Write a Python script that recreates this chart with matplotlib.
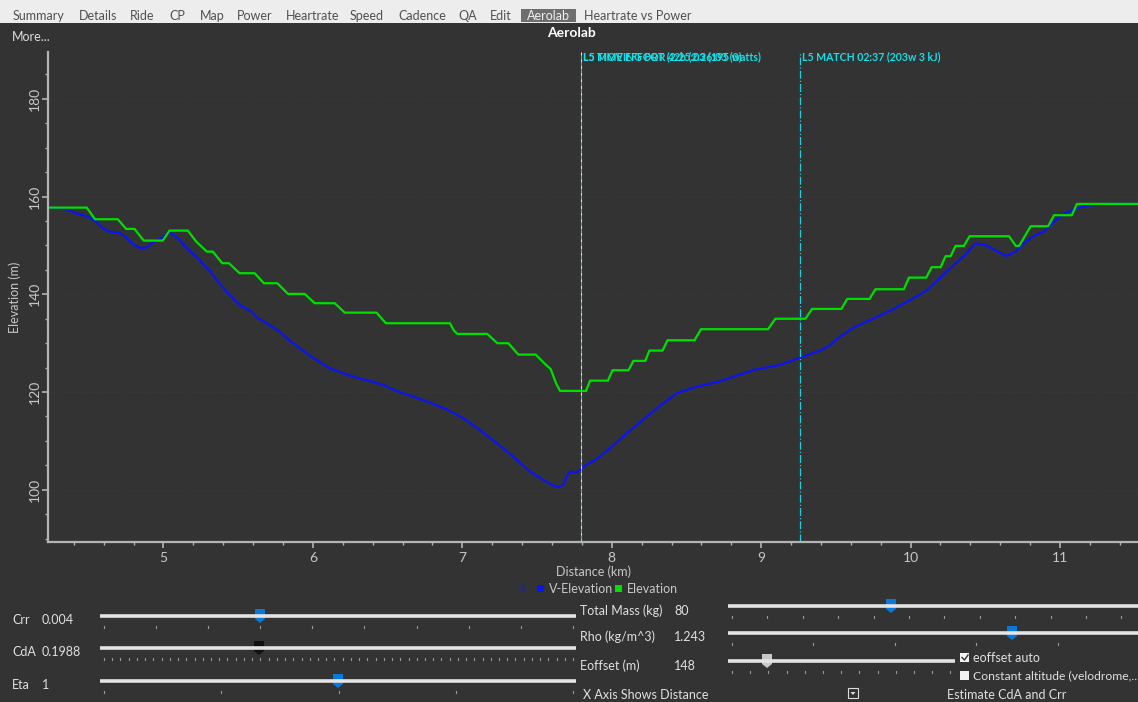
import matplotlib.pyplot as plt
from matplotlib.patches import Rectangle, Polygon

plt.rcParams['font.family'] = ['Lato', 'DejaVu Sans']

# elevation profile (km, m)
green_km = [4.236, 4.486, 4.542, 4.694, 4.750, 4.806, 4.868, 4.995, 5.040, 5.163,
            5.219, 5.290, 5.330, 5.393, 5.438, 5.509, 5.610, 5.672, 5.762, 5.833,
            5.945, 6.012, 6.146, 6.213, 6.426, 6.488, 6.917, 6.944, 6.966, 7.167,
            7.234, 7.308, 7.375, 7.491, 7.553, 7.592, 7.627, 7.654, 7.828, 7.855,
            7.974, 8.005, 8.112, 8.145, 8.224, 8.252, 8.340, 8.373, 8.554, 8.597,
            9.046, 9.095, 9.296, 9.341, 9.537, 9.576, 9.725, 9.765, 9.955, 9.989,
            10.105, 10.141, 10.201, 10.234, 10.268, 10.301, 10.357, 10.395, 10.659, 10.704,
            10.726, 10.804, 10.920, 10.960, 11.079, 11.113, 11.530]
green_m = [157.75, 157.75, 155.37, 155.37, 153.39, 153.39, 150.99, 150.99, 153.04, 153.04,
           150.79, 148.74, 148.74, 146.37, 146.37, 144.32, 144.32, 142.27, 142.27, 140.08,
           140.08, 138.18, 138.18, 136.25, 136.25, 134.08, 134.08, 132.57, 131.89, 131.89,
           129.99, 129.99, 127.66, 127.66, 125.75, 124.67, 121.80, 120.23, 120.23, 122.33,
           122.33, 124.46, 124.46, 126.37, 126.37, 128.48, 128.48, 130.60, 130.60, 132.86,
           132.86, 135.00, 135.00, 137.01, 137.01, 139.06, 139.06, 141.04, 141.04, 143.42,
           143.42, 145.55, 145.55, 147.80, 147.80, 149.91, 149.91, 151.89, 151.89, 149.91,
           149.91, 153.94, 153.94, 156.19, 156.19, 158.51, 158.51]

# virtual elevation (km, m)
velev_km = [4.236, 4.348, 4.415, 4.493, 4.549, 4.593, 4.638, 4.694, 4.739, 4.794,
            4.839, 4.884, 4.940, 4.995, 5.040, 5.096, 5.163, 5.230, 5.308, 5.375,
            5.431, 5.509, 5.588, 5.632, 5.699, 5.777, 5.844, 5.934, 6.012, 6.113,
            6.202, 6.292, 6.381, 6.470, 6.582, 6.671, 6.772, 6.895, 7.006, 7.118,
            7.230, 7.341, 7.453, 7.542, 7.598, 7.643, 7.676, 7.699, 7.721, 7.766,
            7.810, 7.900, 7.989, 8.101, 8.235, 8.346, 8.436, 8.570, 8.704, 8.816,
            8.950, 9.128, 9.262, 9.407, 9.463, 9.530, 9.619, 9.731, 9.865, 10.000,
            10.112, 10.234, 10.357, 10.436, 10.514, 10.603, 10.643, 10.704, 10.759, 10.826,
            10.893, 10.960, 11.027, 11.106, 11.184, 11.340, 11.530]
velev_m = [157.75, 157.42, 156.60, 155.91, 154.88, 153.53, 152.84, 152.71, 151.95, 150.32,
           149.50, 149.56, 150.79, 151.69, 152.71, 151.48, 149.23, 147.39, 144.85, 142.27,
           140.23, 137.83, 136.46, 135.11, 133.94, 132.37, 130.52, 128.48, 126.78, 124.87,
           123.85, 122.95, 122.27, 121.45, 119.96, 119.06, 117.97, 116.48, 114.64, 112.24,
           109.52, 106.78, 103.71, 102.01, 100.98, 100.51, 100.98, 102.68, 103.71, 103.50,
           104.73, 106.31, 108.50, 111.57, 114.97, 117.71, 119.76, 121.11, 122.01, 123.15,
           124.53, 125.55, 127.05, 128.62, 129.64, 131.34, 133.18, 134.76, 136.66, 138.85,
           140.90, 144.44, 147.86, 150.46, 149.91, 148.41, 147.86, 148.74, 150.46, 151.96,
           152.84, 154.88, 156.46, 157.63, 158.16, 158.51, 158.51]

marker_km = [7.795, 9.263]
marker_labels = ["L5 MATCH 02:37 (203w 3 kJ)"]

tabs = ["Summary", "Details", "Ride", "CP", "Map", "Power", "Heartrate", "Speed",
        "Cadence", "QA", "Edit", "Aerolab", "Heartrate vs Power"]
tab_x = [13, 79, 130, 169, 200, 237, 286, 350, 398, 458, 490, 527, 584]

BG = '#333333'
FG = '#c8c8c8'
W, H = 1138, 702

fig = plt.figure(figsize=(W / 100, H / 100), dpi=100, facecolor=BG)

# pixel-space overlay for the window chrome
ui = fig.add_axes([0, 0, 1, 1])
ui.set_xlim(0, W)
ui.set_ylim(H, 0)
ui.axis('off')

ui.add_patch(Rectangle((0, 0), W, 23, color='#ededed', lw=0))
for name, x in zip(tabs, tab_x):
    if name == "Aerolab":
        ui.add_patch(Rectangle((x - 6, 9), 55, 13, color='#6e6e6e', lw=0))
        ui.text(x, 15.5, name, color='#f0f0f0', fontsize=9, va='center')
    else:
        ui.text(x, 15.5, name, color='#505050', fontsize=9, va='center')

ui.text(12, 37, "More...", color='#dddddd', fontsize=9, va='center')
ui.text(571, 33, "Aerolab", color='white', fontsize=10, fontweight='bold',
        ha='center', va='center')

# main plot
ax = fig.add_axes([48 / W, 1 - 542 / H, 1090 / W, 490 / H])
ax.set_facecolor('none')
ax.plot(velev_km, velev_m, color='#0a14f0', lw=1.6)
ax.plot(green_km, green_m, color='#00e000', lw=1.6)
ax.axvline(marker_km[0], color='#dddddd', lw=0.8, ls=(0, (3, 3)))
ax.axvline(marker_km[0], color='#18c8d8', lw=0.8, ls=(3, (3, 3)))
ax.axvline(marker_km[1], color='#18d0e0', lw=0.9, ls='-.')

for s in ['top', 'right']:
    ax.spines[s].set_visible(False)
for s in ['left', 'bottom']:
    ax.spines[s].set_color('#b4b4b4')
    ax.spines[s].set_linewidth(1.6)

ax.set_xlim(4.227, 11.522)
ax.set_ylim(89.3, 189.6)
ax.set_xticks([5, 6, 7, 8, 9, 10, 11])
ax.set_xticks([x / 5 for x in range(22, 58)], minor=True)
ax.set_yticks([100, 120, 140, 160, 180])
ax.set_yticks(list(range(90, 190, 5)), minor=True)
ax.tick_params(which='both', colors='#b4b4b4', labelcolor=FG, labelsize=10, direction='out')
ax.tick_params(which='major', length=4, width=1.2)
ax.tick_params(which='minor', length=2, width=1)
ax.tick_params(axis='y', pad=1)
ax.tick_params(axis='x', pad=3)
for lab in ax.get_yticklabels():
    lab.set_rotation(90)
    lab.set_va('center')
ax.grid(which='major', axis='y', color='#3c3c3c', lw=0.6, ls=':')
ax.set_xlabel("Distance (km)", color=FG, fontsize=9, labelpad=1)
ax.set_ylabel("Elevation (m)", color=FG, fontsize=9, labelpad=6)

# marker labels (first one is several labels drawn over each other)
mk = dict(color='#14e0e8', fontsize=7.6, fontweight='bold', va='center',
          transform=ax.get_xaxis_transform())
ax.text(marker_km[0] + 0.01, 0.99, "L5 MOVING FOR 42b (2:26:03 (0)", **mk)
ax.text(marker_km[0] + 0.01, 0.99, "L5 TIME EFFORT (2:25:03 (195 watts)", **mk)
ax.text(marker_km[1] + 0.01, 0.99, marker_labels[0], **mk)

# legend
ui.add_patch(Rectangle((519, 585), 7, 7, color='#2a2a6a', lw=0))
ui.add_patch(Rectangle((537, 585), 7, 7, color='#0a14f0', lw=0))
ui.text(549, 589, "V-Elevation", color=FG, fontsize=9, va='center')
ui.add_patch(Rectangle((615, 585), 7, 7, color='#00e000', lw=0))
ui.text(627, 589, "Elevation", color=FG, fontsize=9, va='center')


def slider(x0, x1, y, hx, hcolor, ticks):
    ui.plot([x0, x1], [y, y], color='#e4e4e4', lw=2.6, solid_capstyle='butt')
    for t in ticks:
        ui.plot([t, t], [y + 10, y + 12], color='#9a9a9a', lw=0.8)
    ui.add_patch(Polygon([(hx - 5, y - 7), (hx + 5, y - 7), (hx + 5, y + 3),
                          (hx, y + 7), (hx - 5, y + 3)], color=hcolor, lw=0))


slider(100, 576, 616, 260, '#0a78d7', [104 + 52.1 * k for k in range(10)])
slider(100, 576, 648, 259, '#111111', [104 + 8.23 * k for k in range(58)])
slider(100, 576, 681, 338, '#0a78d7', [104 + 117.3 * k for k in range(5)])
slider(728, 1138, 606, 891, '#0a78d7', [732 + 35.4 * k for k in range(12)])
slider(728, 1138, 633, 1012, '#0a78d7', [732 + 81.5 * k for k in range(6)])
slider(728, 955, 661, 767, '#c8c8c8', [732 + 18.2 * k for k in range(13)])

txt = dict(color='#e0e0e0', fontsize=9, va='center')
ui.text(12, 620, "Crr", **txt)
ui.text(42, 620, "0.004", **txt)
ui.text(12, 652, "CdA", **txt)
ui.text(42, 652, "0.1988", **txt)
ui.text(12, 685, "Eta", **txt)
ui.text(42, 685, "1", **txt)
ui.text(580, 611, "Total Mass (kg)", **txt)
ui.text(674, 611, "80", **txt)
ui.text(580, 637, "Rho (kg/m^3)", **txt)
ui.text(674, 637, "1.243", **txt)
ui.text(580, 666, "Eoffset (m)", **txt)
ui.text(674, 666, "148", **txt)
ui.text(583, 695, "X Axis Shows Distance", **txt)
ui.text(947, 695, "Estimate CdA and Crr", **txt)
ui.text(973, 658, "eoffset auto", **txt)
ui.text(973, 676, "Constant altitude (velodrome,...", color='#e0e0e0', fontsize=8.7, va='center')

ui.add_patch(Rectangle((960, 653), 9, 9, color='#f2f2f2', lw=0))
ui.plot([962, 964.5, 968], [657.5, 660, 655], color='#333333', lw=1)
ui.add_patch(Rectangle((960, 671), 9, 9, color='#f2f2f2', lw=0))
ui.add_patch(Rectangle((848, 688), 10, 10, fill=False, ec='#dddddd', lw=0.8))
ui.add_patch(Polygon([(850.5, 692), (855.5, 692), (853, 695)], color='#dddddd', lw=0))

fig.savefig('out.png', dpi=100, facecolor=BG)
